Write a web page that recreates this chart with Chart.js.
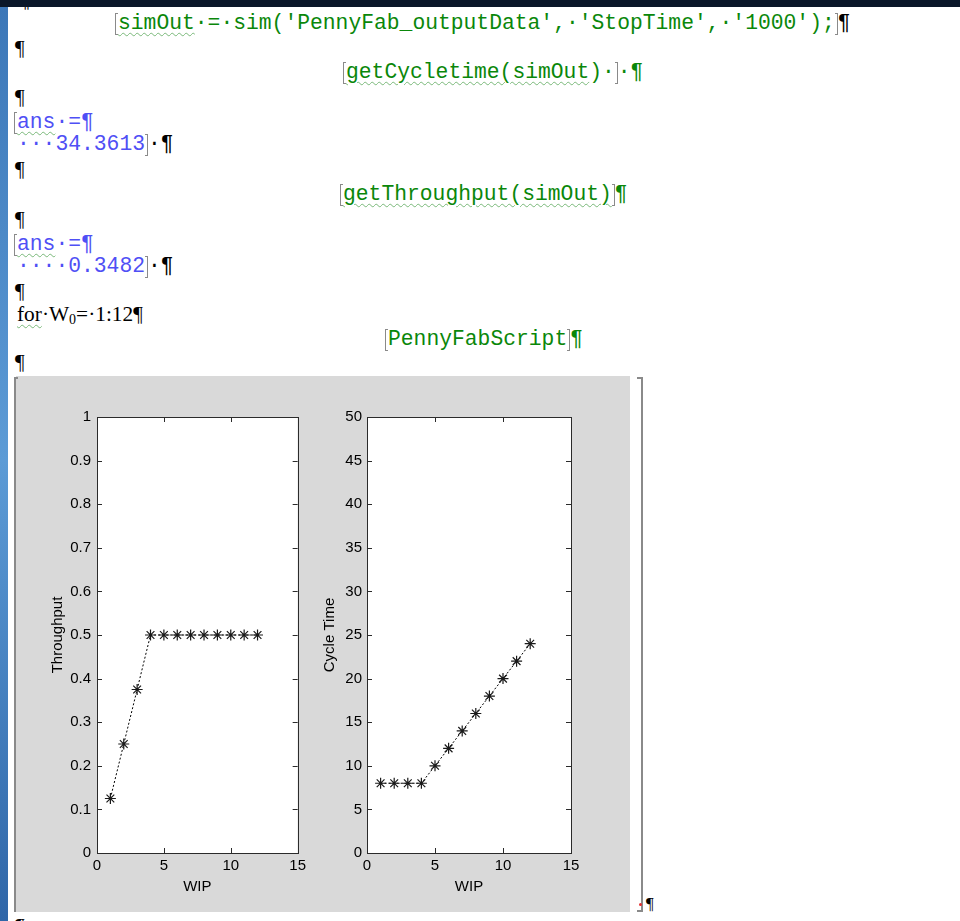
<!DOCTYPE html>
<html lang="en">
<head>
<meta charset="UTF-8">
<title>PennyFab - WIP</title>
<script src="https://cdn.jsdelivr.net/npm/chart.js"></script>
<style>
    html, body { margin: 0; padding: 0; }
    body {
        width: 960px; height: 921px; position: relative; overflow: hidden;
        background: linear-gradient(180deg, #0a1729 0, #0a1729 7px, #3c77b8 7px, #5c9bd6 50%, #2f66a8 100%);
    }
    #page {
        position: absolute; left: 0; top: 0; width: 960px; height: 921px;
        background: #fff; clip-path: inset(7px 0 0 8px);
    }
    .ln {
        position: absolute; white-space: pre; height: 24px; line-height: 24px;
        font-family: 'Liberation Mono', 'Courier New', monospace; font-size: 21.33px;
    }
    .pl { font-family: 'Liberation Serif', 'Times New Roman', serif; color: #000; }
    .g { color: #0a870a; }
    .b { color: #4f4ff5; }
    .k { color: #000; }
    .wv { text-decoration: underline wavy #79b879; text-decoration-thickness: 1px; text-underline-offset: 3px; }
    .bl, .br {
        display: inline-block; width: 2px; height: 20px; vertical-align: -6px;
        border: 1px solid #8a8a8a;
    }
    .bl { border-right: none; }
    .br { border-left: none; }
    #fig { position: absolute; left: 16px; top: 376px; width: 614px; height: 536px; background: #d9d9d9; }
    #brL { position: absolute; left: 14px; top: 377px; width: 4px; height: 535px; border: 2px solid #8a8a8a; border-right: none; border-bottom: none; box-sizing: border-box; }
    #brR { position: absolute; left: 637px; top: 377px; width: 6px; height: 535px; border: 2px solid #8a8a8a; border-left: none; box-sizing: border-box; }
    canvas { position: absolute; }
</style>
</head>
<body>
<div id="page">
    <!-- texto del documento -->
    <div class="ln pl" style="left:20px; top:-12px;">¶</div>
    <div class="ln g" style="left:115px; top:11px;"><span class="bl"></span><span class="wv">simOut</span>·=·sim('PennyFab_outputData',·'StopTime',·'1000');<span class="br"></span><span class="k">¶</span></div>
    <div class="ln pl" style="left:15px; top:36px;">¶</div>
    <div class="ln g" style="left:343px; top:60px;"><span class="bl"></span><span class="wv">getCycletime(simOut</span>)·<span class="br"></span>·¶</div>
    <div class="ln pl" style="left:15px; top:85px;">¶</div>
    <div class="ln b" style="left:14px; top:110px;"><span class="bl"></span><span class="wv">ans</span>·=¶</div>
    <div class="ln b" style="left:17px; top:132px;">···34.3613<span class="br"></span><span class="k">·¶</span></div>
    <div class="ln pl" style="left:15px; top:157px;">¶</div>
    <div class="ln g" style="left:340px; top:182px;"><span class="bl"></span><span class="wv">getThroughput(simOut)</span><span class="br"></span>¶</div>
    <div class="ln pl" style="left:15px; top:207px;">¶</div>
    <div class="ln b" style="left:14px; top:232px;"><span class="bl"></span><span class="wv">ans</span>·=¶</div>
    <div class="ln b" style="left:17px; top:254px;">····0.3482<span class="br"></span><span class="k">·¶</span></div>
    <div class="ln pl" style="left:15px; top:279px;">¶</div>
    <div class="ln pl" style="left:17px; top:302px;"><span class="wv">for</span>·W<sub style="font-size:14px; vertical-align:-3px; line-height:0;">0</sub>=·1:12¶</div>
    <div class="ln g" style="left:385px; top:327px;"><span class="bl"></span>PennyFabScript<span class="br"></span>¶</div>
    <div class="ln pl" style="left:15px; top:350px;">¶</div>

    <!-- figura -->
    <div id="fig"></div>
    <div id="brL"></div>
    <div id="brR"></div>
    <canvas id="throughputChart" width="295" height="536" style="left:15px; top:376px;"></canvas>
    <canvas id="cycleChart" width="320" height="536" style="left:310px; top:376px;"></canvas>

    <div style="position:absolute; left:639px; top:903px; width:3px; height:3px; background:#e53030; border-radius:2px;"></div>
    <div class="ln pl" style="left:646px; top:892px; font-size:17px;">¶</div>
    <div class="ln pl" style="left:15px; top:914px;">¶</div>
</div>

<script>
    // datos
    const wip = [1, 2, 3, 4, 5, 6, 7, 8, 9, 10, 11, 12];
    const throughput = [0.125, 0.25, 0.375, 0.5, 0.5, 0.5, 0.5, 0.5, 0.5, 0.5, 0.5, 0.5];
    const cycleTime = [8, 8, 8, 8, 10, 12, 14, 16, 18, 20, 22, 24];
    const wipTicks = [0, 5, 10, 15];
    const throughputTicks = [0, 0.1, 0.2, 0.3, 0.4, 0.5, 0.6, 0.7, 0.8, 0.9, 1];
    const cycleTicks = [0, 5, 10, 15, 20, 25, 30, 35, 40, 45, 50];

    const sansFont = "'Liberation Sans', Arial, sans-serif";

    // fondo blanco del area + caja con marcas hacia adentro (estilo MATLAB)
    const matlabBox = {
        id: 'matlabBox',
        beforeDraw(chart) {
            const a = chart.chartArea;
            chart.ctx.save();
            chart.ctx.fillStyle = '#fff';
            chart.ctx.fillRect(a.left, a.top, a.right - a.left, a.bottom - a.top);
            chart.ctx.restore();
        },
        afterDraw(chart) {
            const { ctx, chartArea: a, scales: { x, y } } = chart;
            const len = 5;
            ctx.save();
            ctx.strokeStyle = '#2b2b2b';
            ctx.lineWidth = 1;
            ctx.beginPath();
            x.ticks.forEach(t => {
                const px = Math.round(x.getPixelForValue(t.value)) + 0.5;
                ctx.moveTo(px, a.bottom); ctx.lineTo(px, a.bottom - len);
                ctx.moveTo(px, a.top); ctx.lineTo(px, a.top + len);
            });
            y.ticks.forEach(t => {
                const py = Math.round(y.getPixelForValue(t.value)) + 0.5;
                ctx.moveTo(a.left, py); ctx.lineTo(a.left + len, py);
                ctx.moveTo(a.right, py); ctx.lineTo(a.right - len, py);
            });
            ctx.stroke();
            ctx.strokeRect(Math.round(a.left) + 0.5, Math.round(a.top) + 0.5,
                Math.round(a.right - a.left), Math.round(a.bottom - a.top));
            ctx.restore();
        }
    };

    function panel(canvasId, yValues, yTicks, yTitle, yWidth, rightPad, yLabelPad, titlePad) {
        const ctx = document.getElementById(canvasId).getContext('2d');
        return new Chart(ctx, {
            type: 'line',
            data: {
                datasets: [{
                    data: wip.map((w, i) => ({ x: w, y: yValues[i] })),
                    borderColor: '#000',
                    borderWidth: 1,
                    borderDash: [2, 2],
                    pointStyle: 'star',
                    pointRadius: 5.5,
                    pointBorderColor: '#1a1a1a',
                    pointBorderWidth: 1.2,
                    pointBackgroundColor: '#000',
                    tension: 0
                }]
            },
            options: {
                responsive: false,
                animation: false,
                devicePixelRatio: 1,
                layout: { padding: { top: 41, right: rightPad, left: 0, bottom: 0 } },
                plugins: { legend: { display: false }, tooltip: { enabled: false } },
                scales: {
                    x: {
                        type: 'linear', min: 0, max: 15,
                        afterBuildTicks: s => { s.ticks = wipTicks.map(v => ({ value: v })); },
                        afterFit: s => { s.height = 59; },
                        grid: { display: false, drawTicks: false },
                        border: { display: false },
                        ticks: { padding: 4, color: '#000', maxRotation: 0, autoSkip: false,
                            font: { family: sansFont, size: 15 }, callback: v => String(v) },
                        title: { display: true, text: 'WIP', color: '#000',
                            font: { family: sansFont, size: 15 }, padding: { top: 0, bottom: 16 } }
                    },
                    y: {
                        type: 'linear', min: yTicks[0], max: yTicks[yTicks.length - 1],
                        afterBuildTicks: s => { s.ticks = yTicks.map(v => ({ value: v })); },
                        afterFit: s => { s.width = yWidth; },
                        grid: { display: false, drawTicks: false },
                        border: { display: false },
                        ticks: { padding: yLabelPad, color: '#000', autoSkip: false,
                            font: { family: sansFont, size: 15 }, callback: v => String(v) },
                        title: { display: true, text: yTitle, color: '#000',
                            font: { family: sansFont, size: 15 }, padding: { top: titlePad, bottom: 0 } }
                    }
                }
            },
            plugins: [matlabBox]
        });
    }

    panel('throughputChart', throughput, throughputTicks, 'Throughput', 82, 8, 6, 34);
    panel('cycleChart', cycleTime, cycleTicks, 'Cycle Time', 57, 59, 5, 11);
</script>
</body>
</html>
